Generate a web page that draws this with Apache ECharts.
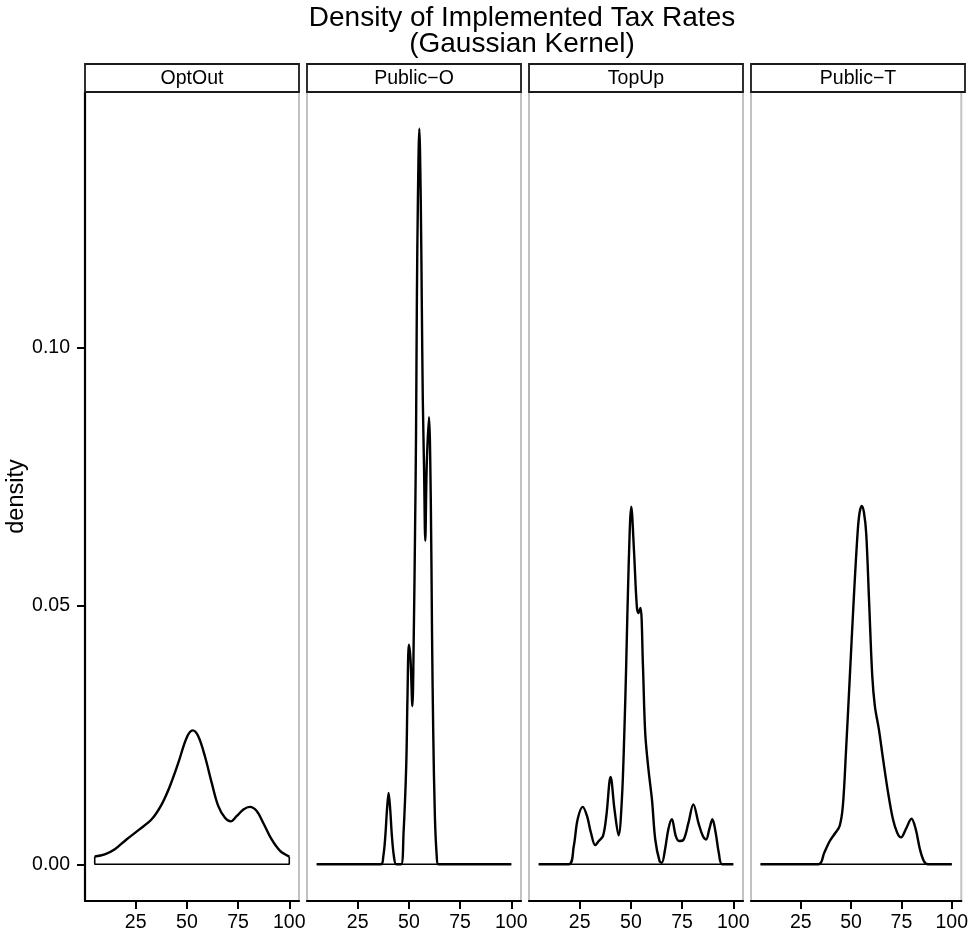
<!DOCTYPE html>
<html><head><meta charset="utf-8">
<script src="https://cdn.jsdelivr.net/npm/echarts@6/dist/echarts.min.js"></script>
<style>html,body{margin:0;padding:0;background:#fff}#c{width:971px;height:936px}</style>
</head><body><div id="c"></div>
<script>
// ---- data ----
const panelNames = ['OptOut', 'Public\u2212O', 'TopUp', 'Public\u2212T'];
const xTicks = [25, 50, 75, 100];
const yTicks = [0, 0.05, 0.10];
const titleText = 'Density of Implemented Tax Rates\n(Gaussian Kernel)';
const yName = 'density';

const optOutX = [5, 9.9, 14.8, 20.5, 27.0, 32.8, 37.7, 41.7, 45.8, 49.9, 52.8, 55.5, 58.8, 62.1, 65.3, 68.6, 71.4, 74.3, 77.6, 80.8, 84.1, 87.3, 91.4, 95.5, 100];
const optOutY = [0.0015, 0.0019, 0.0029, 0.0048, 0.0068, 0.0087, 0.0116, 0.0151, 0.0196, 0.0245, 0.0259, 0.0248, 0.0209, 0.0158, 0.0113, 0.0090, 0.0083, 0.0093, 0.0106, 0.0111, 0.0103, 0.0080, 0.0048, 0.0026, 0.0015];

const publicOX = [5, 36.3, 37.5, 38.5, 39.3, 40.1, 40.9, 41.7, 42.7, 43.8, 46.2, 47.4, 48.7, 49.3, 50.0, 50.8, 51.7, 52.4, 53.0, 53.5, 53.9, 54.4, 55.1, 55.8, 56.3, 56.8, 57.4, 58.0, 58.7, 59.8, 60.7, 61.3, 61.9, 62.7, 63.6, 64.4, 100];
const publicOY = [0, 0, 0.0015, 0.0055, 0.0105, 0.0138, 0.0105, 0.0055, 0.0015, 0, 0, 0.0061, 0.019, 0.0319, 0.0425, 0.0396, 0.0306, 0.0447, 0.064, 0.0834, 0.109, 0.1284, 0.1423, 0.1284, 0.109, 0.0898, 0.0769, 0.0626, 0.0769, 0.0865, 0.0705, 0.0447, 0.0254, 0.0093, 0.0016, 0, 0];

const topUpX = [5, 19.6, 22.1, 24.0, 26.5, 28.6, 30.5, 32.6, 34.3, 36.4, 38.0, 40.1, 42.0, 44.0, 45.6, 46.8, 47.7, 48.9, 50.2, 51.5, 52.9, 53.7, 54.7, 55.9, 57.0, 58.6, 60.3, 61.9, 64.0, 65.1, 66.7, 68.3, 70.0, 71.9, 73.5, 75.6, 78.1, 80.5, 83.0, 85.1, 86.7, 88.3, 89.8, 91.4, 92.9, 94.6, 100];
const topUpY = [0, 0, 0.0035, 0.0087, 0.0111, 0.0093, 0.0061, 0.0037, 0.0045, 0.0055, 0.0093, 0.0169, 0.0106, 0.0056, 0.0125, 0.0254, 0.0383, 0.0576, 0.0692, 0.0608, 0.0499, 0.0486, 0.0496, 0.0383, 0.0254, 0.0183, 0.0125, 0.0048, 0.0006, 0.0003, 0.0029, 0.0068, 0.0087, 0.0055, 0.0045, 0.0047, 0.0080, 0.0116, 0.0080, 0.0055, 0.0048, 0.0068, 0.0087, 0.0061, 0.0023, 0, 0];

const publicTX = [5, 33.8, 36.7, 39.4, 42.2, 44.3, 45.9, 47.5, 49.2, 51.3, 53.2, 54.2, 55.3, 56.4, 57.5, 58.9, 60.5, 61.8, 63.8, 65.9, 68.4, 70.8, 72.9, 74.8, 77.2, 80.0, 82.1, 84.2, 86.2, 88.2, 100];
const publicTY = [0, 0, 0.0023, 0.0045, 0.0061, 0.0074, 0.0113, 0.0222, 0.0351, 0.0512, 0.064, 0.0680, 0.0693, 0.0680, 0.064, 0.0512, 0.0365, 0.0306, 0.0261, 0.0203, 0.0138, 0.0087, 0.0061, 0.0052, 0.0068, 0.0088, 0.0068, 0.0029, 0.0006, 0, 0];

const panelX = [optOutX, publicOX, topUpX, publicTX];
const panelY = [optOutY, publicOY, topUpY, publicTY];

// ---- layout / style ----
const FONT = '"Liberation Sans", Arial, Helvetica, sans-serif';
const lefts = [85, 307, 529, 751];
const pw = 214, gTop = 92, ph = 809;
const stripTop = 64, stripH = 28;
const xMin = 0.25, xMax = 104.75, yMin = -0.0071, yMax = 0.1494;

const chart = echarts.init(document.getElementById('c'), null, {renderer: 'canvas'});
const grids = [], xAxes = [], yAxes = [], seriesList = [], graphics = [];

panelNames.forEach((name, i) => {
  grids.push({left: lefts[i], top: gTop, width: pw, height: ph, show: true,
    borderColor: '#c2c2c2', borderWidth: 2, backgroundColor: 'transparent', containLabel: false});
  xAxes.push({gridIndex: i, type: 'value', min: xMin, max: xMax,
    axisLine: {show: true, onZero: false, lineStyle: {color: '#000', width: 2.2}},
    axisTick: {show: true, length: 8, customValues: xTicks, lineStyle: {color: '#000', width: 2}},
    axisLabel: {show: true, customValues: xTicks, fontSize: 19.5, fontFamily: FONT, color: '#000', margin: 12},
    splitLine: {show: false}});
  yAxes.push({gridIndex: i, type: 'value', min: yMin, max: yMax,
    axisLine: {show: i === 0, onZero: false, lineStyle: {color: '#000', width: 2.2}},
    axisTick: {show: i === 0, length: 8, customValues: yTicks, lineStyle: {color: '#000', width: 2}},
    axisLabel: {show: i === 0, customValues: yTicks, fontSize: 19.5, fontFamily: FONT, color: '#000', margin: 15,
      formatter: v => Number(v).toFixed(2)},
    splitLine: {show: false},
    name: i === 0 ? yName : '', nameLocation: 'middle', nameRotate: 90, nameGap: 52,
    nameTextStyle: {fontSize: 23.5, fontFamily: FONT, color: '#000'}});
  const xs = panelX[i], ys = panelY[i];
  const n = xs.length;
  seriesList.push({type: 'line', xAxisIndex: i, yAxisIndex: i, showSymbol: false, symbol: 'none',
    smooth: 0.35, lineStyle: {color: '#000', width: 2.4}, data: xs.map((x, k) => [x, ys[k]]),
    silent: true, z: 3});
  seriesList.push({type: 'line', xAxisIndex: i, yAxisIndex: i, showSymbol: false, symbol: 'none',
    smooth: false, lineStyle: {color: '#000', width: 1.6},
    data: [[xs[0], ys[0]], [xs[0], 0], [xs[n - 1], 0], [xs[n - 1], ys[n - 1]]], silent: true, z: 2});
  graphics.push({type: 'rect', shape: {x: lefts[i], y: stripTop, width: pw, height: stripH},
    style: {fill: '#fff', stroke: '#1a1a1a', lineWidth: 1.8}, z: 10});
  graphics.push({type: 'text', x: lefts[i] + pw / 2, y: stripTop + stripH / 2 + 1,
    style: {text: name, font: '19.5px ' + FONT, fill: '#000', align: 'center', verticalAlign: 'middle'}, z: 11});
});

graphics.push({type: 'text', x: 522, y: 5,
  style: {text: titleText, font: '28px ' + FONT, fill: '#000', align: 'center', verticalAlign: 'top', lineHeight: 26}, z: 11});

chart.setOption({
  animation: false,
  backgroundColor: '#fff',
  grid: grids, xAxis: xAxes, yAxis: yAxes, series: seriesList, graphic: graphics
});
</script></body></html>
